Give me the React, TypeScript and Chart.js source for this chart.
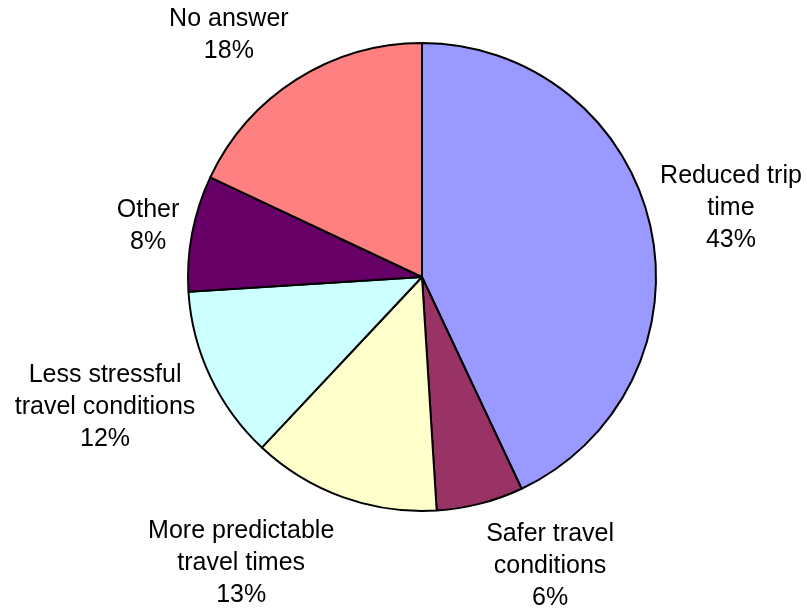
import React, { useEffect, useRef } from "react";
import { Chart, registerables } from "chart.js";

Chart.register(...registerables);

// Survey answers, clockwise from twelve o'clock
const categories: string[][] = [
  ["Reduced trip", "time"],
  ["Safer travel", "conditions"],
  ["More predictable", "travel times"],
  ["Less stressful", "travel conditions"],
  ["Other"],
  ["No answer"],
];
const shares: number[] = [43, 6, 13, 12, 8, 18];
const sliceColors: string[] = ["#9999FF", "#993366", "#FFFFCC", "#CCFFFF", "#660066", "#FF8080"];

// Label placement: angular nudge from the slice's mid-angle (degrees) and
// distance of the text block centre from the pie centre (in radii)
const labelNudgeDeg: number[] = [0, -9.5, 12.5, 2.9, -0.2, -6.2];
const labelDistance: number[] = [1.353, 1.351, 1.446, 1.464, 1.191, 1.323];

const FONT = '25px "Liberation Sans", Arial, sans-serif';
const LINE_HEIGHT = 32;

const outsideLabels = {
  id: "outsideLabels",
  afterDatasetsDraw(chart: any) {
    const ctx: CanvasRenderingContext2D = chart.ctx;
    const meta = chart.getDatasetMeta(0);
    const data = chart.data.datasets[0].data as number[];
    ctx.save();
    ctx.font = FONT;
    ctx.fillStyle = "#000000";
    ctx.textAlign = "center";
    ctx.textBaseline = "middle";
    meta.data.forEach((arc: any, i: number) => {
      const { x, y, startAngle, endAngle, outerRadius } = arc.getProps(
        ["x", "y", "startAngle", "endAngle", "outerRadius"],
        true
      );
      const mid = (startAngle + endAngle) / 2 + (labelNudgeDeg[i] * Math.PI) / 180;
      const d = outerRadius * labelDistance[i];
      const cx = x + Math.cos(mid) * d;
      const cy = y + Math.sin(mid) * d;
      const lines = [...categories[i], `${data[i]}%`];
      const top = cy - ((lines.length - 1) * LINE_HEIGHT) / 2;
      lines.forEach((line, k) => {
        ctx.fillText(line, cx, top + k * LINE_HEIGHT);
      });
    });
    ctx.restore();
  },
};

export default function App() {
  const canvasRef = useRef<HTMLCanvasElement | null>(null);

  useEffect(() => {
    if (!canvasRef.current) return;
    const chart = new Chart(canvasRef.current, {
      type: "pie",
      data: {
        labels: categories.map((c) => c.join(" ")),
        datasets: [
          {
            data: shares,
            backgroundColor: sliceColors,
            borderColor: "#000000",
            borderWidth: 2,
          },
        ],
      },
      options: {
        responsive: false,
        animation: false,
        radius: 234,
        layout: { padding: { left: 37, right: 0, top: 0, bottom: 57 } },
        plugins: {
          legend: { display: false },
          tooltip: { enabled: false },
          title: { display: false },
        },
      },
      plugins: [outsideLabels],
    });
    return () => chart.destroy();
  }, []);

  return (
    <div style={{ position: "absolute", left: 0, top: 0, width: 807, height: 611, background: "#ffffff" }}>
      <canvas ref={canvasRef} width={807} height={611} />
    </div>
  );
}
